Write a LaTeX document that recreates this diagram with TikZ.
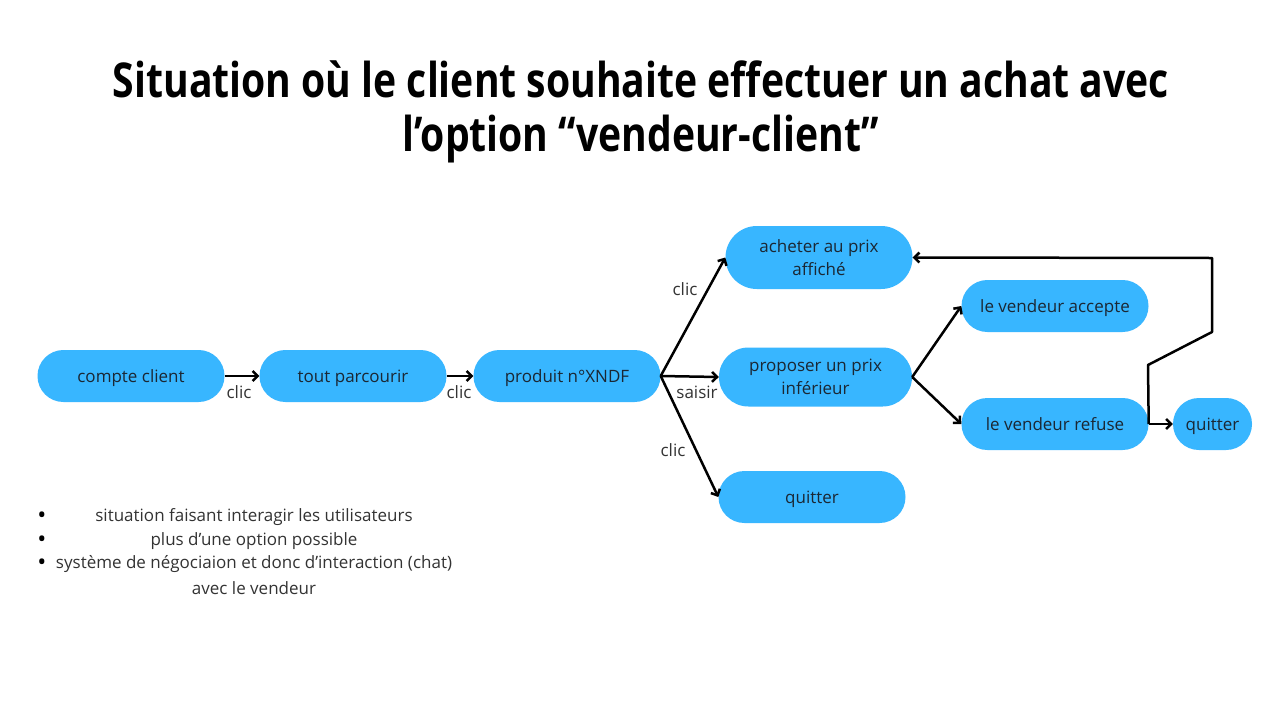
\documentclass[tikz,border=0pt]{standalone}
\usepackage{fontspec}
\setmainfont{Open Sans}
\newfontfamily\titlefont{Open Sans}[FakeStretch=0.815]
\usetikzlibrary{arrows.meta, positioning}
\definecolor{boxblue}{HTML}{38B6FF}
\definecolor{inktext}{HTML}{1B2733}
\definecolor{graytext}{HTML}{333333}

\begin{document}
\begin{tikzpicture}[x=1pt, y=-1pt,
    boxbase/.style={fill=boxblue, text=inktext, rounded corners=25.9pt, minimum width=187pt,
        minimum height=52pt, align=center, inner sep=0pt, font=\fontsize{17}{22.5}\selectfont},
    box/.style={boxbase, text height=15pt, text depth=2.5pt},
    tallbox/.style={boxbase, minimum height=#1, rounded corners=#1/2-0.1pt},
    lbl/.style={text=graytext, inner sep=0pt, font=\fontsize{17}{20}\selectfont},
    puce/.style={inner sep=0pt, font=\fontsize{24}{20}\selectfont},
    flow/.style={line width=2.5pt, -{Straight Barb[length=5pt, width=10pt]}}]
    \useasboundingbox[fill=white] (0,0) rectangle (1282,718);

    % Title
    \node[align=center, inner sep=0pt, font=\titlefont\bfseries\fontsize{48}{54}\selectfont] (titre) at (641,111.5)
        {Situation où le client souhaite effectuer un achat avec\\l’option “vendeur-client”};

    % Draw the boxes
    \node[box] (compte) at (131,376) {compte client};
    \node[box] (parcourir) at (353,376) {tout parcourir};
    \node[box] (produit) at (567,376) {produit n°XNDF};
    \node[tallbox=63pt] (acheter) at (819,257.5) {acheter au prix\\affiché};
    \node[tallbox=59pt, minimum width=193pt] (proposer) at (815.5,377) {proposer un prix\\inférieur};
    \node[box] (quitterA) at (812,497) {quitter};
    \node[box] (accepte) at (1055,306) {le vendeur accepte};
    \node[box] (refuse) at (1055,424) {le vendeur refuse};
    \node[box, minimum width=79pt] (quitterB) at (1212.5,424) {quitter};

    % Draw the arrows
    \draw[flow] (compte) -- (parcourir);
    \draw[flow] (parcourir) -- (produit);
    \draw[flow] (produit.east) -- (acheter.west);
    \draw[flow] (produit.east) -- (proposer.west);
    \draw[flow] (produit.east) -- (quitterA.west);
    \draw[flow] (proposer.east) -- (accepte.west);
    \draw[flow] (proposer.east) -- (refuse.west);
    \draw[flow] (refuse) -- (quitterB);

    % Way back to the displayed price
    \coordinate (k1) at (1148,365);
    \coordinate (k2) at (1212,332);
    \coordinate (k3) at (1212,258);
    \draw[flow, line join=round] (refuse.east) -- (k1) -- (k2) -- (k3) -- (acheter.east);

    % Labels on the arrows
    \node[lbl] (clicA) at (239,392) {clic};
    \node[lbl] (clicB) at (459,392) {clic};
    \node[lbl] (clicC) at (685,289) {clic};
    \node[lbl] (saisir) at (697,392) {saisir};
    \node[lbl] (clicD) at (673,450) {clic};

    % Notes
    \node[puce] (puceA) at (42,518) {•};
    \node[puce] (puceB) at (42,542) {•};
    \node[puce] (puceC) at (42,565) {•};
    \node[lbl] (noteA) at (254,517) {situation faisant interagir les utilisateurs};
    \node[lbl] (noteB) at (254,541) {plus d’une option possible};
    \node[lbl] (noteC) at (254,564) {système de négociaion et donc d’interaction (chat)};
    \node[lbl] (noteD) at (254,588) {avec le vendeur};
\end{tikzpicture}
\end{document}
